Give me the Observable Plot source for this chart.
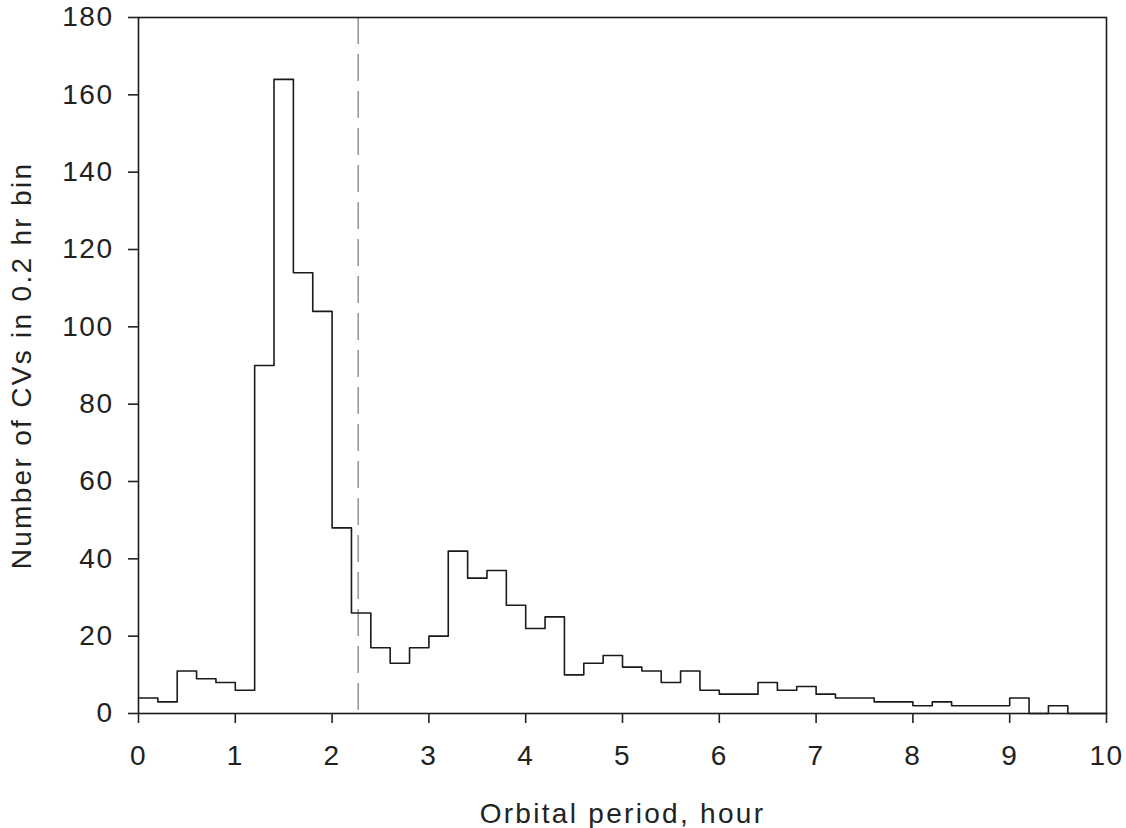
<!DOCTYPE html>
<html>
<head>
<meta charset="utf-8">
<script src="https://cdn.jsdelivr.net/npm/d3@7"></script>
<script src="https://cdn.jsdelivr.net/npm/@observablehq/plot@0.6"></script>
<style>
  html, body { margin: 0; padding: 0; background: #fff; }
  #chart svg { display: block; }
  #chart g[aria-label="x-axis label"] text,
  #chart g[aria-label="y-axis label"] text { letter-spacing: 2.3px; }
</style>
</head>
<body>
<div id="chart"></div>
<script>
// Bin left edges (hours), 0.2 hr wide bins
const binStarts = [0.0,0.2,0.4,0.6,0.8,1.0,1.2,1.4,1.6,1.8,
                   2.0,2.2,2.4,2.6,2.8,3.0,3.2,3.4,3.6,3.8,
                   4.0,4.2,4.4,4.6,4.8,5.0,5.2,5.4,5.6,5.8,
                   6.0,6.2,6.4,6.6,6.8,7.0,7.2,7.4,7.6,7.8,
                   8.0,8.2,8.4,8.6,8.8,9.0,9.2,9.4,9.6,9.8];
// Number of CVs per bin
const counts = [4,3,11,9,8,6,90,164,114,104,
                48,26,17,13,17,20,42,35,37,28,
                22,25,10,13,15,12,11,8,11,6,
                5,5,8,6,7,5,4,4,3,3,
                2,3,2,2,2,4,0,2,0,0];
const binEnd = 10;
// Dashed marker line (hours)
const markerPeriod = [2.27];
const xTicks = [0,1,2,3,4,5,6,7,8,9,10];
const yTicks = [0,20,40,60,80,100,120,140,160,180];

const stepData = binStarts.map((x, i) => ({x, y: counts[i]}));
stepData.push({x: binEnd, y: counts[counts.length - 1]});

const chart = Plot.plot({
  width: 1126,
  height: 828,
  marginLeft: 138,
  marginRight: 20,
  marginTop: 17,
  marginBottom: 115,
  style: {
    fontFamily: "'Liberation Sans', Arial, Helvetica, sans-serif",
    fontSize: "22px",
    color: "#222",
    letterSpacing: "1.5px",
    background: "#fff"
  },
  x: {domain: [0, 10]},
  y: {domain: [0, 180]},
  marks: [
    Plot.ruleX(markerPeriod, {stroke: "#9a9a9a", strokeWidth: 1.6, strokeDasharray: "27,10"}),
    Plot.line(stepData, {x: "x", y: "y", curve: "step-after", stroke: "#1a1a1a", strokeWidth: 1.6}),
    Plot.frame({stroke: "#1a1a1a", strokeWidth: 1.6}),
    Plot.axisX({ticks: xTicks, tickSize: 10, tickPadding: 22, tickFormat: d => String(d),
      label: "Orbital period, hour", labelAnchor: "center", labelArrow: "none", labelOffset: 109,
      fontSize: 28, strokeWidth: 1.6}),
    Plot.axisY({ticks: yTicks, tickSize: 10, tickPadding: 15, tickFormat: d => String(d),
      label: "Number of CVs in 0.2 hr bin", labelAnchor: "center", labelArrow: "none", labelOffset: 127,
      fontSize: 28, strokeWidth: 1.6})
  ]
});
document.getElementById("chart").appendChild(chart);
</script>
</body>
</html>
